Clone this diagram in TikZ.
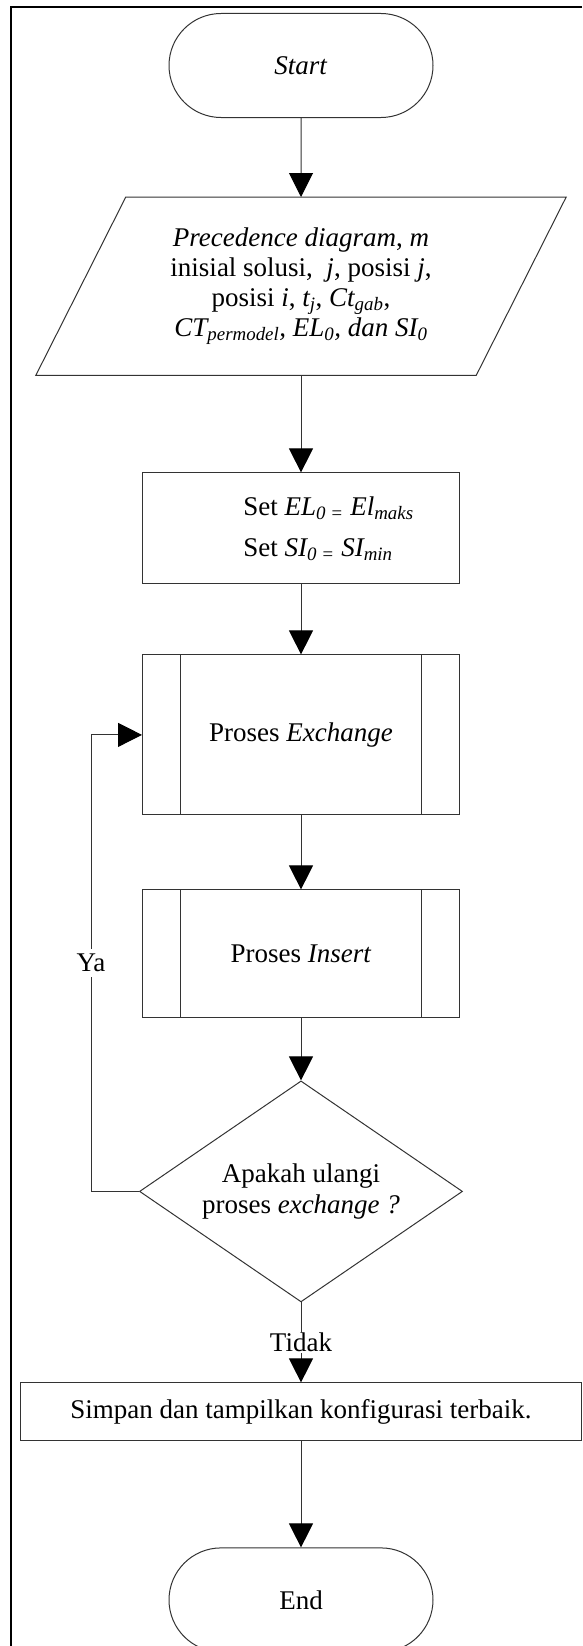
\documentclass[tikz,border=0pt]{standalone}
\usepackage{fontspec}
\setmainfont{Liberation Serif}
\usetikzlibrary{shapes.geometric, shapes.misc, positioning, arrows.meta}

\begin{document}
\begin{tikzpicture}[
        font=\fontsize{27}{29}\selectfont,
        % Define styles for the flowchart blocks
        base_node/.style={draw=black!80, line width=1pt, align=center, inner sep=0pt},
        terminal/.style={base_node, rounded rectangle, minimum width=264pt, minimum height=104pt},
        io_node/.style={align=center, inner sep=0pt, minimum width=440pt, minimum height=178pt, font=\fontsize{27}{30}\selectfont},
        process/.style={base_node, rectangle, minimum width=317pt},
        decision/.style={base_node, diamond, aspect=1.46, minimum width=323pt, minimum height=221pt},
        arrow/.style={draw=black!80, line width=1pt, -{Triangle[length=24pt, width=24pt, color=black]}},
        branch_label/.style={fill=white, inner xsep=3pt, inner ysep=1pt}
    ]

    \useasboundingbox (0,0) rectangle (582pt,-1646pt);

    % page frame, only the top and left edge are visible
    \draw [line width=2pt] (582pt,-6.7pt) -| (11pt,-1646pt);

    % Blocks from top to bottom
    \node (start) [terminal] at (301pt,-65.5pt) {\textit{Start}};

    \node (input) [io_node, below=79pt of start] {\textit{Precedence diagram}, \textit{m}\\
        inisial solusi, \ \textit{j}, posisi \textit{j},\\
        posisi \textit{i}, \textit{t\textsubscript{j}}, \textit{Ct\textsubscript{gab}},\\
        \textit{CT\textsubscript{permodel}, EL\textsubscript{0}, dan SI\textsubscript{0}}};
    % slanted outline of the data block
    \draw [black!80, line width=1pt] ([xshift=-45pt]input.south west) -- ([xshift=-45pt]input.south east)
        -- ([xshift=45pt]input.north east) -- ([xshift=45pt]input.north west) -- cycle;

    \node (init) [process, minimum height=111pt, align=left, below=97pt of input] {\hspace*{55pt}Set \textit{EL\textsubscript{0 =} El\textsubscript{maks}}\\[12pt]
        \hspace*{55pt}Set \textit{SI\textsubscript{0 =} SI\textsubscript{min}}};

    \node (exch) [process, minimum height=160pt, below=70pt of init] {Proses \textit{Exchange}};
    \node (ins) [process, minimum height=128pt, below=74pt of exch] {Proses \textit{Insert}};

    \node (check) [decision, below=62pt of ins] {Apakah ulangi\\[2.5pt] proses \textit{exchange ?}};

    \node (save) [process, minimum width=561pt, minimum height=58pt, below=80pt of check] {Simpan dan tampilkan konfigurasi terbaik.};

    \node (end) [terminal, below=106pt of save] {End};

    % inner bars of the predefined process blocks
    \draw [black!80, line width=1pt] ([xshift=38.5pt]exch.north west) -- ([xshift=38.5pt]exch.south west);
    \draw [black!80, line width=1pt] ([xshift=-38.5pt]exch.north east) -- ([xshift=-38.5pt]exch.south east);
    \draw [black!80, line width=1pt] ([xshift=38.5pt]ins.north west) -- ([xshift=38.5pt]ins.south west);
    \draw [black!80, line width=1pt] ([xshift=-38.5pt]ins.north east) -- ([xshift=-38.5pt]ins.south east);

    % Connectors
    \draw [arrow] (start) -- (input);
    \draw [arrow] (input) -- (init);
    \draw [arrow] (init) -- (exch);
    \draw [arrow] (exch) -- (ins);
    \draw [arrow] (ins) -- (check);
    \draw [arrow] (check) -- node [branch_label] {Tidak} (save);
    \draw [arrow] (save) -- (end);

    % back to the exchange step
    \draw [arrow] (check.west) -| ([xshift=-51pt]exch.west) node [branch_label, inner ysep=5pt, pos=0.75] {Ya} -- (exch.west);

\end{tikzpicture}
\end{document}
